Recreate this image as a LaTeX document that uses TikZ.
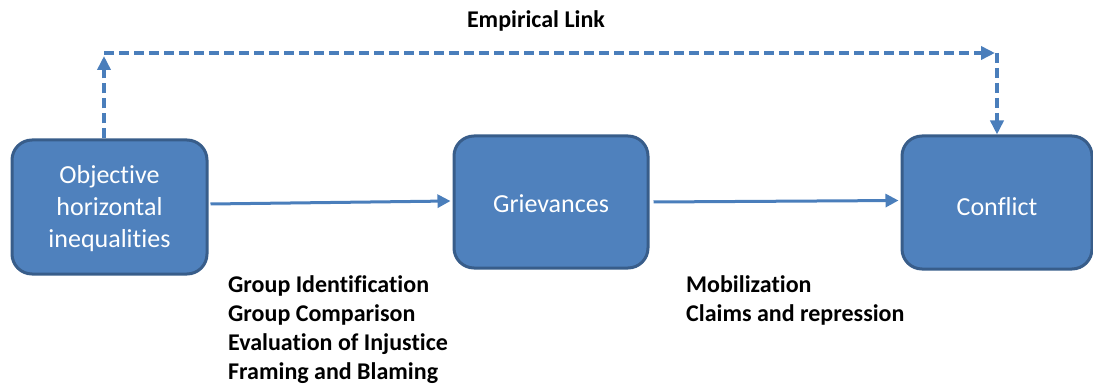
\documentclass[tikz,border=0pt]{standalone}
\usepackage{fontspec}
\setmainfont{Carlito}[Ligatures={NoCommon}]
\usetikzlibrary{arrows.meta}
\definecolor{boxfill}{HTML}{4F81BD}
\definecolor{boxline}{HTML}{385D8A}
\definecolor{arrowblue}{HTML}{4A7EBB}
\tikzset{
  stage/.style={draw=boxline, fill=boxfill, line width=3pt, rounded corners=20pt,
    text=white, align=center, font=\fontsize{26}{31}\selectfont, inner sep=0pt},
  flow/.style={draw=arrowblue, line width=3pt, -{Triangle[length=13pt,width=13pt]}},
  emp/.style={draw=arrowblue, line width=4pt, dash pattern=on 10pt off 5pt,
    -{Triangle[length=14pt,width=13pt]}},
  lbl/.style={font=\bfseries\fontsize{24}{29}\selectfont, align=left, inner sep=0pt, anchor=north west}
}
\begin{document}
\begin{tikzpicture}[x=1pt,y=-1pt]
\useasboundingbox (0,0) rectangle (1093,385);
\node[stage, minimum width=195pt, minimum height=134pt] (ohi) at (109.5,207) {\raisebox{-2pt}[\height][\depth]{\begin{tabular}{@{}c@{}}Objective\\[1pt]horizontal\\[1pt]inequalities\end{tabular}}};
\node[stage, minimum width=194pt, minimum height=132pt] (gri) at (551,202) {\raisebox{-2pt}[\height][\depth]{Grievances}};
\node[stage, minimum width=190pt, minimum height=133pt] (con) at (997,202.5) {\raisebox{-4pt}[\height][\depth]{Conflict}};
\coordinate (tl) at (104,53);
\coordinate (tr) at (997,53);
\draw[flow] ([xshift=2pt,yshift=3pt]ohi.east) -- ([xshift=-2pt,yshift=1pt]gri.west);
\draw[flow] ([xshift=4pt]gri.east) -- ([xshift=-2pt,yshift=2pt]con.west);
\draw[emp] (ohi.north -| tl) -- ([yshift=-3pt]tl);
\draw[emp] (tl) -- ([xshift=-2pt]tr);
\draw[emp] (tr) -- (con.north -| tr);
\node[font=\bfseries\fontsize{24}{29}\selectfont] (el) at (536,21) {Empirical Link};
\node[lbl] (mech1) at (228,275.5) {Group Identification\\Group Comparison\\Evaluation of Injustice\\Framing and Blaming};
\node[lbl] (mech2) at (686,275.5) {Mobilization\\Claims and repression};
\end{tikzpicture}
\end{document}
